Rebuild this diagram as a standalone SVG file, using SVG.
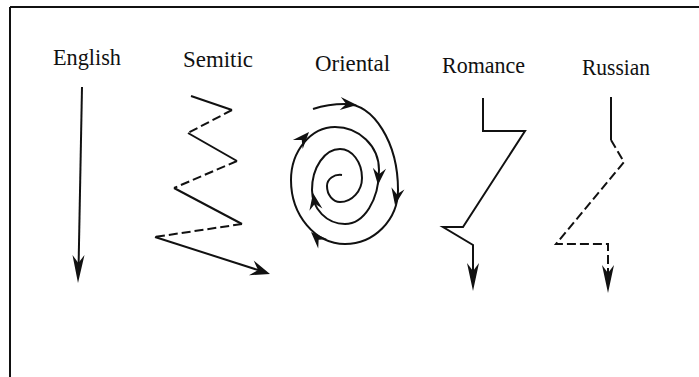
<svg xmlns="http://www.w3.org/2000/svg" width="699" height="377" viewBox="0 0 699 377">
<style>
.lbl{font-family:"Liberation Serif","DejaVu Serif",serif;font-size:23px;fill:#111}
.ln{fill:none;stroke:#111;stroke-width:2;stroke-linejoin:miter}
.ds{fill:none;stroke:#111;stroke-width:2;stroke-dasharray:9,4}
.ah{fill:#111}
</style>
<defs>
<path id="ah" d="M0,0 L-14,-5.5 L-9,0 L-14,5.5 Z"/>
<path id="ahL" d="M0,0 L-28,-6 L-20,0 L-28,6 Z"/>
</defs>
<g id="frame">
<line x1="10" y1="7" x2="699" y2="7" stroke="#111" stroke-width="2"/>
<line x1="10" y1="7" x2="10" y2="377" stroke="#111" stroke-width="2"/>
</g>
<g id="english">
<text class="lbl" x="53" y="65" textLength="68" lengthAdjust="spacingAndGlyphs">English</text>
</g>
<g id="semitic">
<text class="lbl" x="183" y="67" textLength="70" lengthAdjust="spacingAndGlyphs">Semitic</text>
</g>
<g id="oriental">
<text class="lbl" x="315" y="71" textLength="75" lengthAdjust="spacingAndGlyphs">Oriental</text>
</g>
<g id="romance">
<text class="lbl" x="442" y="73" textLength="83" lengthAdjust="spacingAndGlyphs">Romance</text>
</g>
<g id="russian">
<text class="lbl" x="582" y="75" textLength="68" lengthAdjust="spacingAndGlyphs">Russian</text>
</g>
<g id="connectors">
<!-- English -->
<path class="ln" d="M82,87 L78.5,270"/>
<use href="#ahL" class="ah" transform="translate(78,283) rotate(91)"/>
<!-- Semitic -->
<path class="ln" d="M191,96 L232,110"/>
<path class="ds" d="M232,110 L188,133"/>
<path class="ln" d="M188,133 L237,161"/>
<path class="ds" d="M237,161 L174,188"/>
<path class="ln" d="M174,188 L242,224"/>
<path class="ds" d="M242,224 L155,237"/>
<path class="ln" d="M155,237 L258,270"/>
<use href="#ah" class="ah" transform="translate(270,274) scale(1.4) rotate(18)"/>
<!-- Oriental spiral -->
<path class="ln" d="M313,109 C322,106 333,104 345,104 C374,104 398,143 398,190 C398,220 374,244 345,244 C315,244 291,215 291,180 C291,151 311,127 335,127 C359,127 379,146 379,170 C379,200 364,224 345,224 C327,224 312,209 312,190 C312,167 325,149 340,149 C352,149 362,162 362,178 C362,191 352,202 340,202 C333,202 327,195 327,186 C327,179 334,174 342,175"/>
<use href="#ah" class="ah" transform="translate(357,105) scale(1.2) rotate(5)"/>
<use href="#ah" class="ah" transform="translate(395,205) scale(1.2) rotate(100)"/>
<use href="#ah" class="ah" transform="translate(311,232) scale(1.2) rotate(225)"/>
<use href="#ah" class="ah" transform="translate(309,132) scale(1.2) rotate(-48)"/>
<use href="#ah" class="ah" transform="translate(378,185) scale(1.2) rotate(95)"/>
<use href="#ah" class="ah" transform="translate(313,193) scale(1.2) rotate(-100)"/>
<!-- Romance -->
<path class="ln" d="M483,98 L483,131 L525,131 L463,227 L443,227 L473,245 L473,278"/>
<use href="#ahL" class="ah" transform="translate(473,291) rotate(90)"/>
<!-- Russian -->
<path class="ln" d="M611,97 L611,140"/>
<path class="ds" d="M611,140 L624,162 L556,244 L608,244 L608,280"/>
<use href="#ahL" class="ah" transform="translate(608,293) rotate(90)"/>
</g>
</svg>
